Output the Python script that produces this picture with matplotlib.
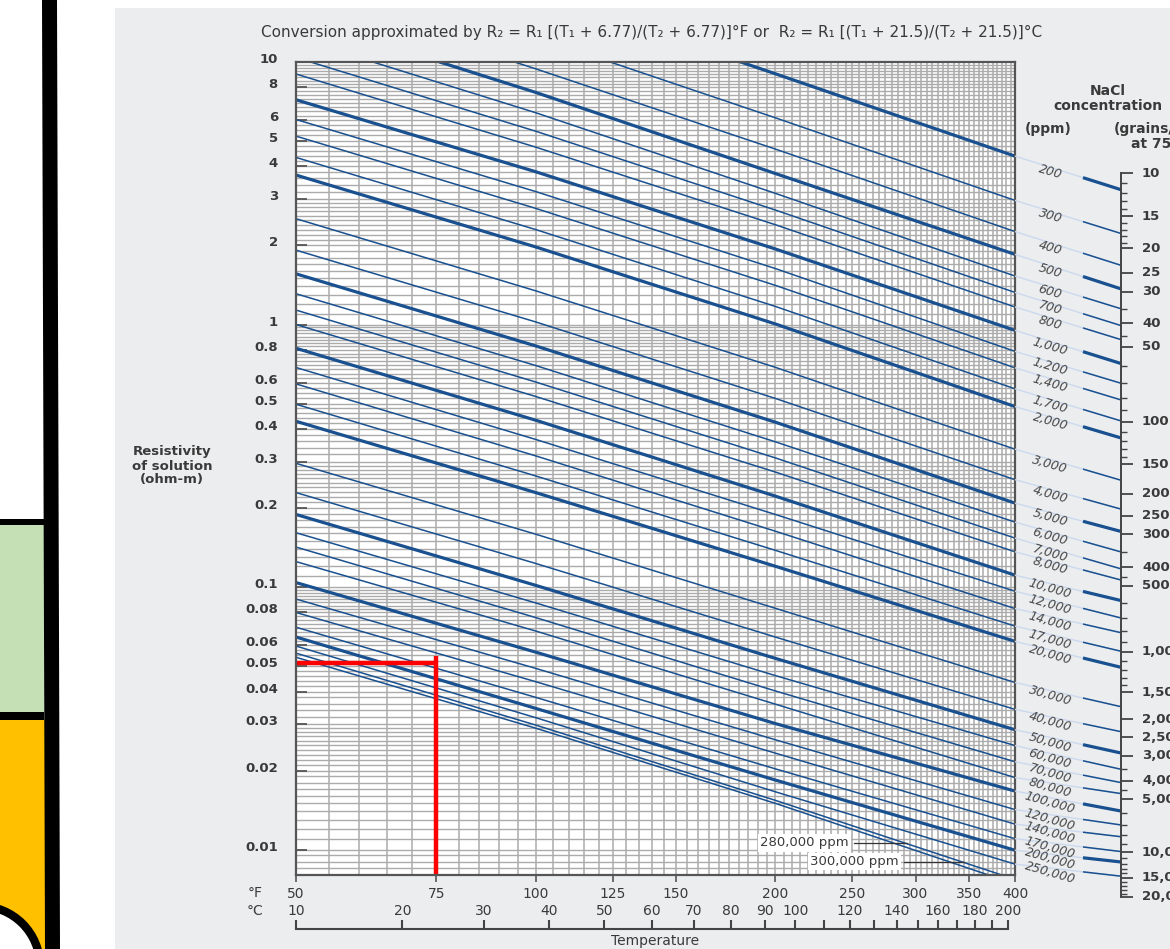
#!/usr/bin/env python3
"""Resistivity of NaCl solutions vs temperature, with ppm / grains nomograph."""

import numpy as np
import matplotlib
matplotlib.use("Agg")
import matplotlib.pyplot as plt
from matplotlib import transforms as mtransforms
from matplotlib.patches import Rectangle, Circle, Polygon
from matplotlib.ticker import NullLocator

plt.rcParams["font.family"] = ["DejaVu Sans"]

W, H, DPI = 1170, 949, 100

# ---- values ----------------------------------------------------------------
temps_f = [50, 100, 200, 400]

ppm = [200, 300, 400, 500, 600, 700, 800, 1000, 1200, 1400, 1700, 2000,
       3000, 4000, 5000, 6000, 7000, 8000, 10000, 12000, 14000, 17000, 20000,
       30000, 40000, 50000, 60000, 70000, 80000, 100000, 120000, 140000,
       170000, 200000, 250000, 280000, 300000]
heavy_ppm = [200, 500, 1000, 2000, 5000, 10000, 20000, 50000, 100000, 200000]

res_50f = [36.7, 24.7, 18.6, 14.9, 12.34, 10.40, 9.00, 7.18, 6.04, 5.22,
           4.33, 3.71, 2.53, 1.92, 1.56, 1.31, 1.135, 1.00, 0.812, 0.686,
           0.594, 0.497, 0.428, 0.296, 0.229, 0.189, 0.161, 0.142, 0.125,
           0.104, 0.090, 0.080, 0.0703, 0.0645, 0.0596, 0.0560, 0.0540]
res_100f = [18.45, 12.47, 9.42, 7.66, 6.41, 5.45, 4.74, 3.82, 3.21, 2.77,
            2.30, 1.975, 1.344, 1.023, 0.829, 0.698, 0.604, 0.532, 0.432,
            0.365, 0.316, 0.265, 0.229, 0.159, 0.123, 0.1015, 0.0870, 0.0765,
            0.0680, 0.0565, 0.0490, 0.0436, 0.0380, 0.0345, 0.0318, 0.0298,
            0.0290]
res_200f = [9.02, 6.13, 4.66, 3.76, 3.16, 2.73, 2.40, 1.94, 1.634, 1.41,
            1.172, 1.005, 0.687, 0.523, 0.4246, 0.3575, 0.3104, 0.2742, 0.222,
            0.189, 0.1632, 0.138, 0.120, 0.0830, 0.0645, 0.0535, 0.0460,
            0.0402, 0.0358, 0.0302, 0.0262, 0.0233, 0.0203, 0.0184, 0.0166,
            0.0154, 0.0150]
res_400f = [4.38, 2.97, 2.26, 1.85, 1.53, 1.325, 1.166, 0.95, 0.79, 0.684,
            0.569, 0.487, 0.335, 0.2564, 0.2088, 0.1767, 0.1536, 0.1362,
            0.111, 0.0964, 0.0828, 0.0710, 0.0621, 0.0433, 0.0342, 0.0286,
            0.0249, 0.0216, 0.0188, 0.0167, 0.0142, 0.0125, 0.0110, 0.00994,
            0.0088, 0.0077, 0.0074]

f_ticks = [50, 75, 100, 125, 150, 200, 250, 300, 350, 400]
c_labels = [10, 20, 30, 40, 50, 60, 70, 80, 90, 100, 120, 140, 160, 180, 200]
c_ticks = list(range(10, 201, 10))
r_ticks = [0.01, 0.02, 0.03, 0.04, 0.05, 0.06, 0.08, 0.1, 0.2, 0.3, 0.4, 0.5,
           0.6, 0.8, 1, 2, 3, 4, 5, 6, 8, 10]
r_tick_labels = ["0.01", "0.02", "0.03", "0.04", "0.05", "0.06", "0.08",
                 "0.1", "0.2", "0.3", "0.4", "0.5", "0.6", "0.8", "1", "2",
                 "3", "4", "5", "6", "8", "10"]

# grains/gal scale: where each labelled mark sits, in chart resistivity units
grain_labels = [10, 15, 20, 25, 30, 40, 50, 100, 150, 200, 250, 300, 400, 500,
                1000, 1500, 2000, 2500, 3000, 4000, 5000, 10000, 15000, 20000]
grain_pos_res = [3.767, 2.590, 1.951, 1.575, 1.334, 1.011, 0.823, 0.4265,
                 0.294, 0.2262, 0.187, 0.159, 0.1192, 0.1012, 0.0566, 0.0398,
                 0.0314, 0.0268, 0.02277, 0.01828, 0.01556, 0.00978, 0.0078,
                 0.0066]
grain_minor = [11, 12, 13, 14, 16, 17, 18, 19, 35, 45, 60, 70, 80, 90, 110,
               120, 130, 140, 350, 450, 600, 700, 800, 900, 1100, 1200, 1300,
               1400, 3500, 4500, 6000, 7000, 8000, 9000, 11000, 12000, 13000,
               14000, 16000, 17000, 18000, 19000]
PPM_PER_GRAIN = 17.12

example_temp_f = 75
example_res = 0.0515
example_res_top = 0.0545

BLUE = "#19508F"
FAINT = "#CBD9EE"
GRID = "#ABABAB"
TXT = "#3A3A3A"
RED = "#FF0000"


def P(x, y):
    """pixel position (origin top-left) -> inches for fig.dpi_scale_trans"""
    return x / DPI, (H - y) / DPI


def px_rect(x0, y0, x1, y1):
    return [x0 / W, 1 - y1 / H, (x1 - x0) / W, (y1 - y0) / H]


fig = plt.figure(figsize=(W / DPI, H / DPI), dpi=DPI)
fig.patch.set_facecolor("white")
ins = fig.dpi_scale_trans

# slide decoration on the left and grey panel
fig.add_artist(Rectangle(P(115, 949), 1055 / DPI, 941 / DPI, transform=ins,
                         facecolor="#ECEDEF", edgecolor="none", zorder=0))
fig.add_artist(Rectangle(P(0, 712), 44 / DPI, 188 / DPI, transform=ins,
                         facecolor="#C5E0B4", edgecolor="none"))
fig.add_artist(Rectangle(P(0, 949), 45 / DPI, 230 / DPI, transform=ins,
                         facecolor="#FFC000", edgecolor="none"))
fig.add_artist(Rectangle(P(0, 525), 44 / DPI, 6 / DPI, transform=ins,
                         facecolor="black", edgecolor="none"))
fig.add_artist(Rectangle(P(0, 720), 44 / DPI, 8 / DPI, transform=ins,
                         facecolor="black", edgecolor="none"))
fig.add_artist(Polygon([P(42, 0), P(57, 0), P(60, 949), P(45, 949)],
                       transform=ins, facecolor="black", edgecolor="none"))
fig.add_artist(Circle(P(-20, 966), 0.60, transform=ins, facecolor="white",
                      edgecolor="black", lw=6))

# ---- main chart ---------------------------------------------------------------
ax = fig.add_axes(px_rect(296, 62, 1015, 875))
ax.set_xscale("log")
ax.set_yscale("log")
ax.set_xlim(50, 400)
ax.set_ylim(0.008, 10)
ax.set_facecolor("white")

# fine log-paper grid
f_grid = np.arange(55, 400, 5)
steps = [(0.8, 1.0, 0.05), (1.0, 3.0, 0.1), (3.0, 5.0, 0.2), (5.0, 10.0, 0.25)]
r_grid = []
for dec in [0.01, 0.1, 1.0]:
    for lo, hi, st in steps:
        for m in np.arange(lo, hi - st / 2, st):
            r_grid.append(round(m * dec, 6))
r_grid = sorted(set(v for v in r_grid if 0.008 < v < 10))
ax.vlines(f_grid, 0.008, 10, color=GRID, lw=1.1, zorder=1)
ax.hlines(r_grid, 50, 400, color=GRID, lw=1.0, zorder=1)

for i, c in enumerate(ppm):
    vals = [res_50f[i], res_100f[i], res_200f[i], res_400f[i]]
    ax.plot(temps_f, vals, color=BLUE, lw=2.3 if c in heavy_ppm else 1.1,
            zorder=3, solid_capstyle="butt")

# worked example in red
ax.plot([50, example_temp_f], [example_res, example_res], color=RED, lw=3.2,
        zorder=5, solid_capstyle="butt")
ax.plot([example_temp_f, example_temp_f], [0.008, example_res_top], color=RED,
        lw=3.2, zorder=5, solid_capstyle="butt", clip_on=False)

for s in ax.spines.values():
    s.set_color("#555555")
    s.set_linewidth(1.6)
    s.set_zorder(6)

ax.xaxis.set_minor_locator(NullLocator())
ax.yaxis.set_minor_locator(NullLocator())
ax.set_xticks(f_ticks, [str(v) for v in f_ticks])
ax.set_yticks(r_ticks, r_tick_labels)
ax.tick_params(axis="x", direction="out", length=5, width=1.2, color="#555555",
               pad=4, labelsize=10, labelcolor=TXT)
ax.tick_params(axis="y", direction="in", length=8, width=1.3, color="#555555",
               pad=13, labelsize=9.5, labelcolor=TXT)
up = mtransforms.ScaledTranslation(0, 4 / DPI, ins)
for lab in ax.get_yticklabels():
    lab.set_fontweight("bold")
    lab.set_transform(lab.get_transform() + up)

# Celsius scale below
bx = mtransforms.blended_transform_factory(ax.transData, ax.transAxes)
ax_h = 813.0
for c in c_labels:
    ax.text(1.8 * c + 32, -(911 - 875) / ax_h, str(c), transform=bx,
            ha="center", va="center", fontsize=10, color=TXT)
y_br = -(929 - 875) / ax_h
ax.plot([1.8 * c_ticks[0] + 32, 1.8 * c_ticks[-1] + 32], [y_br, y_br],
        transform=bx, color="#444444", lw=1.5, clip_on=False)
ax.vlines([1.8 * c + 32 for c in c_ticks], y_br, y_br + 9 / ax_h,
          transform=bx, color="#444444", lw=1.5, clip_on=False)

fig.text(255 / W, 1 - 893 / H, "°F", ha="center", va="center", fontsize=10,
         color=TXT)
fig.text(255 / W, 1 - 911 / H, "°C", ha="center", va="center", fontsize=10,
         color=TXT)
fig.text(655 / W, 1 - 941 / H, "Temperature", ha="center", va="center",
         fontsize=10, color=TXT)
fig.text(172 / W, 1 - 466 / H, "Resistivity\nof solution\n(ohm-m)",
         ha="center", va="center", fontsize=9.5, fontweight="bold", color=TXT,
         linespacing=1.1)
fig.text(261 / W, 1 - 32 / H,
         "Conversion approximated by R\u2082 = R\u2081 [(T\u2081 + 6.77)/"
         "(T\u2082 + 6.77)]°F or  R\u2082 = R\u2081 [(T\u2081 + 21.5)/"
         "(T\u2082 + 21.5)]°C",
         ha="left", va="center", fontsize=11, color=TXT)

# labels for the two lowest lines inside the chart
for c, txt, r_lead, t0, t1 in [(280000, "280,000 ppm", 0.0106, 251, 293),
                               (300000, "300,000 ppm", 0.0090, 290, 345)]:
    ax.text(t0 * 0.985, r_lead, txt, ha="right", va="center", fontsize=9.5,
            color=TXT, zorder=7,
            bbox=dict(facecolor="white", edgecolor="none", pad=1.5))
    ax.plot([t0, t1], [r_lead, r_lead], color="#333333", lw=0.9, zorder=7)

# ---- nomograph on the right ---------------------------------------------------
pos = ax.get_position()
dec_per_frac = (np.log10(10) - np.log10(0.008)) / pos.height
r_bottom = 10 ** (np.log10(0.008) - pos.y0 * dec_per_frac)
axr = fig.add_axes([pos.x1, 0, 1 - pos.x1, pos.y1])
axr.set_yscale("log")
axr.set_ylim(r_bottom, 10)
axr.set_xlim(0, W - 1015)
axr.axis("off")

X_LAB, X_STUB, X_AXIS = 35, 68, 106


def grains_to_res(g):
    return 10 ** np.interp(np.log10(g), np.log10(grain_labels),
                           np.log10(grain_pos_res))


for i, c in enumerate(ppm[:-2]):
    r0 = res_400f[i]
    r1 = grains_to_res(c / PPM_PER_GRAIN)
    lw = 2.3 if c in heavy_ppm else 1.1
    axr.plot([0, X_AXIS], [r0, r1], color=FAINT, lw=1.0, zorder=1)
    xs = np.array([X_STUB, X_AXIS])
    ys = 10 ** (np.log10(r0) + (np.log10(r1) - np.log10(r0)) * xs / X_AXIS)
    axr.plot(xs, ys, color=BLUE, lw=lw, zorder=2, solid_capstyle="butt")
    rl = 10 ** (np.log10(r0) + (np.log10(r1) - np.log10(r0)) * X_LAB / X_AXIS)
    t = axr.text(X_LAB, rl, f"{c:,}", ha="center", va="center", rotation=-16,
                 fontsize=9, style="italic", color="#484848", zorder=3)
    t.set_transform(t.get_transform()
                    + mtransforms.ScaledTranslation(0, -5 / DPI, ins))

g_lo, g_hi = grains_to_res(grain_labels[0]), grains_to_res(grain_labels[-1])
axr.plot([X_AXIS, X_AXIS], [g_lo, g_hi], color="#444444", lw=1.4,
         clip_on=False)
axr.hlines(grains_to_res(np.array(grain_labels)), X_AXIS, X_AXIS + 12,
           color="#444444", lw=1.3, clip_on=False)
axr.hlines(grains_to_res(np.array(grain_minor)), X_AXIS, X_AXIS + 6,
           color="#444444", lw=1.0, clip_on=False)
for g in grain_labels:
    axr.text(X_AXIS + 21, grains_to_res(g), f"{g:,}", ha="left",
             va="center", fontsize=9.5, fontweight="bold", color=TXT,
             clip_on=False)

fig.text(1108 / W, 1 - 91 / H, "NaCl", ha="center", va="center",
         fontsize=10, fontweight="bold", color=TXT)
fig.text(1108 / W, 1 - 106 / H, "concentration", ha="center", va="center",
         fontsize=10, fontweight="bold", color=TXT)
fig.text(1048 / W, 1 - 129 / H, "(ppm)", ha="center", va="center",
         fontsize=10, fontweight="bold", color=TXT)
fig.text(1114 / W, 1 - 129 / H, "(grains/gal", ha="left", va="center",
         fontsize=10, fontweight="bold", color=TXT)
fig.text(1131 / W, 1 - 144 / H, "at 75°F)", ha="left", va="center",
         fontsize=10, fontweight="bold", color=TXT)

fig.savefig("out.png", dpi=DPI)
